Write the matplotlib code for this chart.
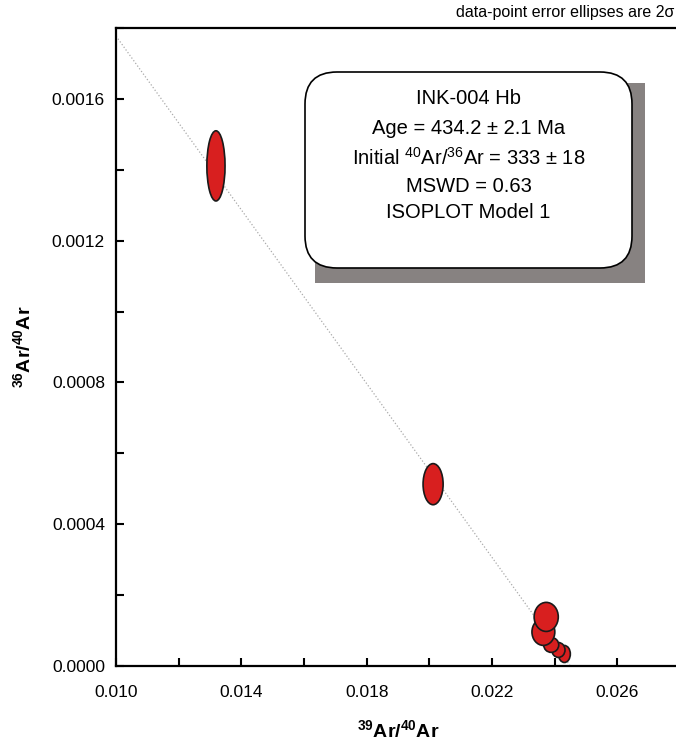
import matplotlib
matplotlib.use('Agg')
import matplotlib.pyplot as plt
import numpy as np
from matplotlib.patches import Ellipse, FancyBboxPatch, Rectangle
from matplotlib.ticker import FixedLocator, FormatStrFormatter, MultipleLocator

plt.rcParams['font.family'] = ['Liberation Sans', 'DejaVu Sans']
plt.rcParams['mathtext.fontset'] = 'custom'
plt.rcParams['mathtext.rm'] = 'Liberation Sans'
plt.rcParams['mathtext.bf'] = 'Liberation Sans:bold'

# 39Ar/40Ar, 36Ar/40Ar ellipse centres and full widths/heights (2 sigma)
ar39_40 = [0.02431, 0.02412, 0.02389, 0.02364, 0.02373, 0.02012, 0.01319]
ar36_40 = [0.0000339, 0.0000452, 0.0000594, 0.0000961, 0.0001385, 0.000513, 0.001411]
ell_w = [0.00038, 0.00042, 0.00048, 0.00073, 0.00077, 0.00064, 0.00058]
ell_h = [0.000048, 0.000042, 0.000042, 0.000076, 0.000082, 0.000116, 0.000198]

# isochron: y-intercept = 1/(40Ar/36Ar)i, x-intercept
initial_ratio = 333
x_intercept = 0.0245

x_major = [0.010, 0.014, 0.018, 0.022, 0.026]
x_minor = [0.012, 0.016, 0.020, 0.024, 0.028]

box_lines = ['INK-004 Hb',
             'Age = 434.2 ± 2.1 Ma',
             'Initial $^{40}$Ar/$^{36}$Ar = 333 ± 18',
             'MSWD = 0.63',
             'ISOPLOT Model 1']

fig = plt.figure(figsize=(6.76, 7.42), dpi=100)
ax = fig.add_axes([116 / 676, 76 / 742, 564 / 676, 638 / 742])

y0 = 1.0 / initial_ratio
lx = np.array([0.010, x_intercept])
ax.plot(lx, y0 - y0 / x_intercept * lx, linestyle=':', color='#aaaaaa', linewidth=0.9, zorder=1)

for i in range(len(ar39_40)):
    e = Ellipse((ar39_40[i], ar36_40[i]), ell_w[i], ell_h[i],
                facecolor='#d81f1f', edgecolor='#1a1a1a', linewidth=1.2, zorder=2 + i)
    ax.add_patch(e)

ax.set_xlim(0.010, 0.028)
ax.set_ylim(0.0, 0.0018)
ax.xaxis.set_major_locator(FixedLocator(x_major))
ax.xaxis.set_minor_locator(FixedLocator(x_minor))
ax.yaxis.set_major_locator(MultipleLocator(0.0004))
ax.yaxis.set_minor_locator(MultipleLocator(0.0002))
ax.xaxis.set_major_formatter(FormatStrFormatter('%.3f'))
ax.yaxis.set_major_formatter(FormatStrFormatter('%.4f'))
ax.tick_params(which='both', direction='in', length=6, width=1.5, labelsize=12.5, pad=8)
ax.tick_params(axis='x', pad=14)
for s in ax.spines.values():
    s.set_linewidth(1.6)

ax.set_xlabel(r'$^{\mathbf{39}}$Ar/$^{\mathbf{40}}$Ar', fontsize=14, fontweight='bold', labelpad=14)
ax.set_ylabel(r'$^{\mathbf{36}}$Ar/$^{\mathbf{40}}$Ar', fontsize=14, fontweight='bold', labelpad=12)

# info box with shadow (inch coordinates)
tr = fig.dpi_scale_trans
fig.patches.append(Rectangle((3.15, 4.59), 3.30, 2.00, transform=tr,
                             facecolor='#878281', edgecolor='none', zorder=5))
fig.patches.append(FancyBboxPatch((3.05, 4.74), 3.27, 1.96, transform=tr,
                                  boxstyle='round,pad=0,rounding_size=0.32',
                                  facecolor='white', edgecolor='black', linewidth=1.2, zorder=6))
line_y = [6.44, 6.13, 5.84, 5.56, 5.30]
for t, yy in zip(box_lines, line_y):
    fig.text(4.685, yy, t, transform=tr, ha='center', va='center', fontsize=14.5, zorder=7)

fig.text(674 / 676, 1 - 12 / 742, 'data-point error ellipses are 2σ', ha='right', va='center', fontsize=11.5)

fig.savefig('out.png', dpi=100)
plt.close('all')
